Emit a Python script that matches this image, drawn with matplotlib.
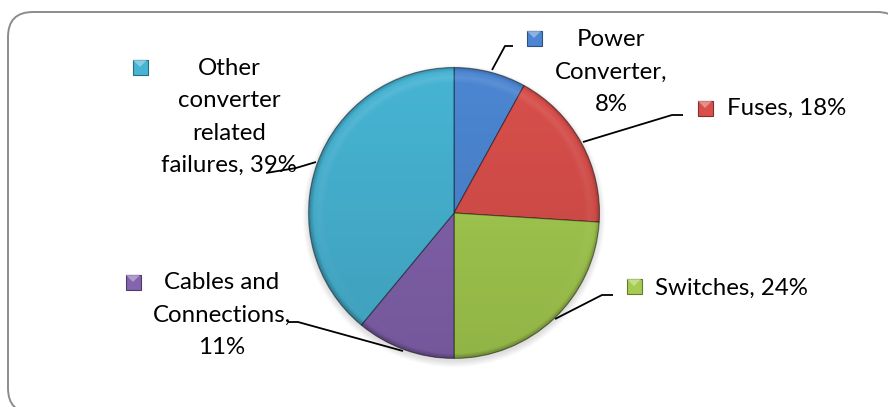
import numpy as np
import matplotlib.pyplot as plt
from matplotlib.patches import FancyBboxPatch, Rectangle, Polygon, Circle
from matplotlib.colors import to_rgb

# failure share of each component (clockwise from 12 o'clock)
labels = ["Power\nConverter,\n8%", "Fuses, 18%", "Switches, 24%",
          "Cables and\nConnections,\n11%",
          "Other\nconverter\nrelated\nfailures, 39%"]
shares = [8, 18, 24, 11, 39]
colors = ["#4C86D2", "#D94F4B", "#A5CC50", "#8463AF", "#47B4D4"]

W, H = 888, 407
plt.rcParams['font.family'] = ['Lato', 'DejaVu Sans']


def Y(y):
    # layout below is measured from the top edge
    return H - y


fig = plt.figure(figsize=(W / 100, H / 100), dpi=100)
ax = fig.add_axes([0, 0, 1, 1])

# rounded outer frame (runs off the right and bottom edges)
frame = FancyBboxPatch((8, Y(413)), 894, 401,
                       boxstyle="round,pad=0,rounding_size=25",
                       fc="white", ec="#8c8c8c", lw=1.4, zorder=0)
ax.add_patch(frame)

cx, cy, R = 454, Y(213), 145.5

# soft shadow under the pie
for i in range(8):
    ax.add_patch(Circle((cx, cy - 3), R + 0.8 * i, color="#808080",
                        alpha=0.03, lw=0, zorder=1))

wedges, _ = ax.pie(shares, startangle=90, counterclock=False,
                   center=(cx, cy), radius=R, colors=colors,
                   wedgeprops=dict(edgecolor=(0, 0, 0, 0.45), linewidth=0.8))
for w in wedges:
    w.set_zorder(2)

# shading overlay: darker toward the bottom, soft bevel at the rim
n = 500
xs = np.linspace(cx - R, cx + R, n)
ys = np.linspace(cy + R, cy - R, n)
gx, gy = np.meshgrid(xs, ys)
rn = np.hypot(gx - cx, gy - cy) / R
t = (cy + R - gy) / (2 * R)
shade = np.zeros((n, n, 4))
dark = 0.12 * t + 0.22 * np.clip((rn - 0.97) / 0.03, 0, 1)
light = 0.10 * np.clip(1 - np.abs(rn - 0.93) / 0.04, 0, 1) * (1 - t)
shade[..., :3] = (light / (light + dark + 1e-9))[..., None]
shade[..., 3] = np.clip(light + dark, 0, 1)
im = ax.imshow(shade, extent=(cx - R, cx + R, cy - R, cy + R),
               zorder=3, interpolation="bilinear")
im.set_clip_path(Circle((cx, cy), R, transform=ax.transData))

# label text: (x, y, ha) in pixel layout
text_pos = [(611, 72, "center"), (727, 108, "left"), (655, 288, "left"),
            (222, 315, "center"), (229, 117, "center")]
key_pos = [(534, 38), (705, 108), (634, 286), (133, 282), (140, 67)]
leaders = [[(492, 70), (505, 46), (513, 46)],
           [(583, 142), (672, 115), (683, 115)],
           [(555, 319), (602, 295), (613, 295)],
           [(403, 351), (298, 322), (288, 322)],
           [(316, 162), (296, 168), (266, 173)]]

for lab, col, (tx, ty, ha), (kx, ky), pts in zip(labels, colors, text_pos,
                                                  key_pos, leaders):
    ax.text(tx, Y(ty), lab, ha=ha, va="center", fontsize=17.3,
            linespacing=1.66, color="black", zorder=5)
    k = 7.5
    ax.add_patch(Rectangle((kx - k, Y(ky) - k), 2 * k, 2 * k, fc=col,
                           ec=np.array(to_rgb(col)) * 0.6, lw=0.8, zorder=5))
    top = np.array(to_rgb(col)) * 0.4 + 0.6
    ax.add_patch(Polygon([(kx - k, Y(ky) + k), (kx + k, Y(ky) + k),
                          (kx, Y(ky))], closed=True, fc=top, lw=0,
                         alpha=0.6, zorder=6))
    ax.plot([p[0] for p in pts], [Y(p[1]) for p in pts], color="black",
            lw=1.3, zorder=4, solid_capstyle="butt")

ax.set_xlim(0, W)
ax.set_ylim(0, H)
ax.set_aspect("equal")
ax.axis("off")
fig.savefig("out.png", dpi=100)
